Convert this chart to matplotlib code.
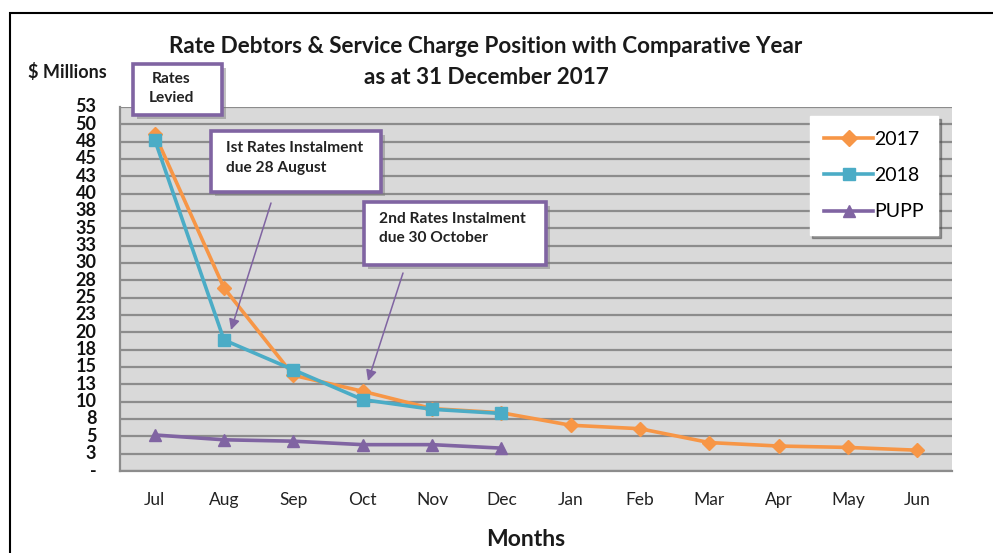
import matplotlib
matplotlib.use("Agg")
import matplotlib.pyplot as plt
from matplotlib.patches import Rectangle

plt.rcParams['font.family'] = ['Lato', 'DejaVu Sans']

months = ["Jul", "Aug", "Sep", "Oct", "Nov", "Dec", "Jan", "Feb", "Mar", "Apr", "May", "Jun"]
y2017 = [48.6, 26.4, 13.8, 11.5, 9.0, 8.4, 6.6, 6.1, 4.1, 3.6, 3.4, 3.0]
y2018 = [47.8, 18.9, 14.6, 10.3, 8.9, 8.3]
pupp = [5.2, 4.5, 4.3, 3.8, 3.8, 3.3]
yticks = [0, 2.5, 5, 7.5, 10, 12.5, 15, 17.5, 20, 22.5, 25, 27.5, 30, 32.5, 35,
          37.5, 40, 42.5, 45, 47.5, 50, 52.5]
ytick_labels = ["-", "3", "5", "8", "10", "13", "15", "18", "20", "23", "25", "28",
                "30", "33", "35", "38", "40", "43", "45", "48", "50", "53"]

orange = "#F79646"
teal = "#4BACC6"
purple = "#8064A2"

W, H = 993, 553
fig = plt.figure(figsize=(W / 100, H / 100), dpi=100)


def px(x, y):
    # pixel position (from top-left) -> figure fraction
    return x / W, 1 - y / H


ax = fig.add_axes([120 / W, 1 - 471 / H, (952 - 120) / W, (471 - 107) / H])
ax.set_facecolor("#D9D9D9")

x = list(range(len(months)))
ax.plot(x, y2017, color=orange, lw=2.6, marker="D", ms=7, label="2017", zorder=3)
ax.plot(x[:len(y2018)], y2018, color=teal, lw=2.6, marker="s", ms=9, label="2018", zorder=4)
ax.plot(x[:len(pupp)], pupp, color=purple, lw=2.6, marker="^", ms=9, label="PUPP", zorder=3)

ax.set_xlim(-0.5, len(months) - 0.5)
ax.set_ylim(0, 52.5)
ax.set_yticks(yticks)
ax.set_yticklabels(ytick_labels, fontweight="bold", fontsize=13)
ax.set_xticks(x)
ax.set_xticklabels(months, fontsize=12.5)
ax.tick_params(axis="x", length=0, pad=15, colors="#222222")
ax.tick_params(axis="y", length=0, pad=17, colors="#111111")
for t in ax.get_yticklabels():
    t.set_verticalalignment("center")
ax.yaxis.grid(True, color="#8C8C8C", lw=1.6)
ax.set_axisbelow(True)
for s in ["top", "right"]:
    ax.spines[s].set_visible(False)
for s in ["left", "bottom"]:
    ax.spines[s].set_color("#8C8C8C")
    ax.spines[s].set_linewidth(1.6)

leg = ax.legend(loc="upper right", bbox_to_anchor=(px(938, 116)), bbox_transform=fig.transFigure,
                fontsize=14, handlelength=2.5, labelspacing=1.0, borderpad=0.75,
                handletextpad=0.05, fancybox=False, shadow=True, framealpha=1,
                borderaxespad=0)
leg.get_frame().set_edgecolor("white")
for h in leg.legend_handles:
    h.set_markersize(8)

# title and axis labels
fig.text(*px(486, 47), "Rate Debtors & Service Charge Position with Comparative Year",
         ha="center", va="center", fontsize=16.2, fontweight="bold", color="#1a1a1a")
fig.text(*px(486, 78), "as at 31 December 2017", ha="center", va="center",
         fontsize=16.2, fontweight="bold", color="#1a1a1a")
fig.text(*px(67, 72), "$ Millions", ha="center", va="center", fontsize=13,
         fontweight="bold", color="#1a1a1a")
fig.text(*px(526, 540), "Months", ha="center", va="center", fontsize=16.5,
         fontweight="bold", color="#1a1a1a")


def callout(x0, y0, x1, y1, lines, tx, ty, ha="left"):
    # shadow
    sx, sy = px(x0 + 4, y1 + 4)
    fig.patches.append(Rectangle((sx, sy), (x1 - x0) / W, (y1 - y0) / H,
                                 transform=fig.transFigure, facecolor="#777777",
                                 alpha=0.45, edgecolor="none", zorder=9))
    bx, by = px(x0, y1)
    fig.patches.append(Rectangle((bx, by), (x1 - x0) / W, (y1 - y0) / H,
                                 transform=fig.transFigure, facecolor="white",
                                 edgecolor=purple, lw=2.6, zorder=10))
    fig.text(*px(tx, ty), lines, ha=ha, va="top", fontsize=11.2, multialignment=ha,
             fontweight="bold", color="#222222", linespacing=1.5, zorder=11)


callout(133, 64, 222, 115, "Rates\nLevied", 171, 72, ha="center")
callout(211, 131, 381, 192, "Ist Rates Instalment\ndue 28 August", 226, 141)
callout(364, 202, 546, 265, "2nd Rates Instalment\ndue 30 October", 379, 212)

for (xs, ys, xe, ye) in [(271, 203, 231, 330), (403, 273, 368, 381)]:
    ax.annotate("", xy=px(xe, ye), xycoords="figure fraction",
                xytext=px(xs, ys), textcoords="figure fraction",
                arrowprops=dict(arrowstyle="-|>", color=purple, lw=1.1,
                                mutation_scale=16, shrinkA=0, shrinkB=0),
                zorder=8)

# outer border
fig.patches.append(Rectangle(px(10, 600), 1.0, (600 - 13) / H, transform=fig.transFigure,
                             facecolor="none", edgecolor="black", lw=1.5, zorder=20))

fig.savefig("out.png", dpi=100)
